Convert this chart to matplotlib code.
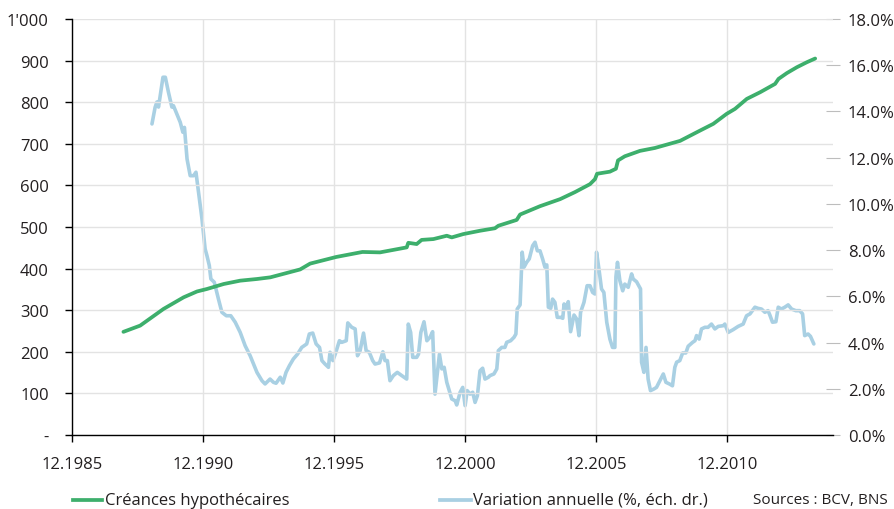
import numpy as np
import matplotlib
matplotlib.use("Agg")
import matplotlib.pyplot as plt
from matplotlib.lines import Line2D

plt.rcParams['font.family'] = ['Open Sans', 'DejaVu Sans']

# Créances hypothécaires (CHF mrd, left scale), decimal years
credit_years = [1987.87, 1988.51, 1989.40, 1990.17, 1990.68, 1991.06, 1991.70, 1992.33,
                1992.97, 1993.48, 1994.62, 1995.00, 1996.00, 1997.00, 1997.67, 1998.69,
                1998.75, 1999.07, 1999.26, 1999.71, 2000.22, 2000.41, 2000.85, 2001.49,
                2002.06, 2002.19, 2002.89, 2003.02, 2003.78, 2004.55, 2005.12, 2005.69,
                2005.88, 2005.96, 2006.45, 2006.68, 2006.76, 2007.02, 2007.60, 2008.17,
                2009.13, 2009.90, 2010.40, 2010.91, 2011.23, 2011.68, 2012.19, 2012.76,
                2012.89, 2013.21, 2013.59, 2013.97, 2014.29]
credit_vals = [248, 263, 303, 331, 345, 351, 363, 371,
               375, 379, 398, 412, 428, 440, 439, 451,
               462, 459, 469, 471, 479, 475, 483, 491,
               497, 503, 517, 530, 550, 567, 584, 603,
               615, 628, 633, 640, 660, 670, 683, 690,
               707, 732, 748, 772, 784, 808, 824, 844,
               856, 870, 884, 896, 905]

# Variation annuelle (%, right scale)
var_years = [1988.96, 1989.08, 1989.15, 1989.21, 1989.38, 1989.47, 1989.59, 1989.72, 1989.78, 1989.91,
             1990.04, 1990.14, 1990.20, 1990.30, 1990.42, 1990.55, 1990.64, 1990.74, 1990.87, 1990.99,
             1991.06, 1991.15, 1991.21, 1991.34, 1991.50, 1991.63, 1991.80, 1991.97, 1992.14, 1992.33,
             1992.52, 1992.71, 1992.97, 1993.16, 1993.28, 1993.47, 1993.60, 1993.70, 1993.86, 1993.96,
             1994.08, 1994.21, 1994.36, 1994.52, 1994.68, 1994.87, 1994.97, 1995.10, 1995.23, 1995.36,
             1995.45, 1995.57, 1995.70, 1995.76, 1995.87, 1995.96, 1996.12, 1996.21, 1996.38, 1996.44,
             1996.59, 1996.72, 1996.81, 1996.91, 1997.04, 1997.14, 1997.26, 1997.39, 1997.48, 1997.65,
             1997.78, 1997.86, 1997.95, 1998.05, 1998.18, 1998.33, 1998.50, 1998.69, 1998.75, 1998.84,
             1998.92, 1999.07, 1999.14, 1999.23, 1999.35, 1999.46, 1999.58, 1999.68, 1999.77, 1999.94,
             2000.03, 2000.12, 2000.22, 2000.41, 2000.54, 2000.60, 2000.73, 2000.83, 2000.92, 2001.00,
             2001.11, 2001.21, 2001.30, 2001.39, 2001.49, 2001.59, 2001.68, 2001.81, 2001.87, 2002.02,
             2002.13, 2002.19, 2002.32, 2002.44, 2002.51, 2002.66, 2002.79, 2002.86, 2002.91, 2003.02,
             2003.10, 2003.17, 2003.27, 2003.37, 2003.50, 2003.59, 2003.68, 2003.78, 2003.88, 2003.97,
             2004.04, 2004.10, 2004.19, 2004.26, 2004.35, 2004.44, 2004.57, 2004.65, 2004.70, 2004.77,
             2004.86, 2004.95, 2005.08, 2005.18, 2005.27, 2005.33, 2005.46, 2005.58, 2005.69, 2005.79,
             2005.88, 2005.94, 2006.04, 2006.13, 2006.22, 2006.33, 2006.45, 2006.55, 2006.64, 2006.68,
             2006.74, 2006.83, 2006.94, 2007.02, 2007.15, 2007.28, 2007.34, 2007.47, 2007.62, 2007.66,
             2007.75, 2007.83, 2007.91, 2008.00, 2008.13, 2008.23, 2008.36, 2008.49, 2008.59, 2008.72,
             2008.84, 2008.93, 2009.00, 2009.12, 2009.23, 2009.35, 2009.44, 2009.61, 2009.70, 2009.76,
             2009.86, 2009.95, 2010.08, 2010.20, 2010.33, 2010.46, 2010.59, 2010.78, 2010.84, 2010.97,
             2011.16, 2011.35, 2011.54, 2011.67, 2011.80, 2011.99, 2012.11, 2012.24, 2012.37, 2012.49,
             2012.56, 2012.66, 2012.79, 2012.88, 2013.00, 2013.13, 2013.26, 2013.39, 2013.55, 2013.70,
             2013.81, 2013.89, 2014.02, 2014.11, 2014.24]
var_vals = [13.46, 14.18, 14.41, 14.19, 15.48, 15.48, 14.83, 14.19, 14.25, 13.89,
            13.53, 13.10, 13.31, 11.94, 11.22, 11.22, 11.37, 10.50, 9.35, 8.05,
            7.76, 7.33, 6.75, 6.61, 5.88, 5.31, 5.16, 5.16, 4.88, 4.44,
            3.86, 3.43, 2.71, 2.35, 2.21, 2.42, 2.28, 2.24, 2.50, 2.25,
            2.71, 3.00, 3.29, 3.50, 3.79, 3.94, 4.37, 4.41, 3.94, 3.79,
            3.22, 3.07, 2.93, 3.58, 3.22, 3.50, 4.08, 4.01, 4.08, 4.85,
            4.66, 4.59, 3.43, 3.65, 4.41, 3.65, 3.58, 3.22, 3.07, 3.12,
            3.60, 3.22, 3.22, 2.35, 2.57, 2.71, 2.57, 2.42, 4.80, 4.44,
            3.36, 3.36, 3.50, 4.44, 4.90, 4.08, 4.23, 4.47, 1.77, 3.50,
            2.86, 2.93, 2.28, 1.56, 1.48, 1.30, 1.85, 2.06, 1.27, 1.92,
            1.77, 1.85, 1.41, 1.70, 2.78, 2.89, 2.42, 2.50, 2.57, 2.64,
            2.86, 3.65, 3.79, 3.79, 4.01, 4.08, 4.23, 4.37, 5.45, 5.63,
            7.91, 7.26, 7.47, 7.62, 8.19, 8.34, 7.97, 7.97, 7.62, 7.26,
            7.36, 5.53, 5.48, 5.88, 5.74, 5.09, 5.09, 5.05, 5.67, 5.45,
            5.77, 4.47, 5.19, 5.02, 4.30, 5.31, 5.74, 6.46, 6.46, 6.17,
            6.10, 7.91, 7.11, 6.32, 6.17, 4.88, 4.15, 3.79, 3.79, 6.84,
            7.47, 6.68, 6.24, 6.53, 6.39, 6.97, 6.75, 6.63, 6.32, 3.15,
            2.71, 3.79, 2.42, 1.92, 1.99, 2.06, 2.35, 2.64, 2.28, 2.21,
            2.13, 2.93, 3.15, 3.22, 3.55, 3.55, 3.84, 4.01, 4.08, 4.30,
            4.15, 4.59, 4.66, 4.66, 4.80, 4.59, 4.70, 4.73, 4.80, 4.44,
            4.56, 4.70, 4.80, 5.16, 5.24, 5.53, 5.48, 5.45, 5.31, 5.38,
            5.19, 4.88, 4.90, 5.53, 5.45, 5.53, 5.63, 5.45, 5.38, 5.38,
            5.24, 4.30, 4.37, 4.27, 3.94]

tick_years = [1985.917, 1990.917, 1995.917, 2000.917, 2005.917, 2010.917]
tick_labels = ['12.1985', '12.1990', '12.1995', '12.2000', '12.2005', '12.2010']
left_ticks = list(range(0, 1001, 100))
left_labels = ['-'] + [str(v) for v in range(100, 1000, 100)] + ["1'000"]
right_ticks = list(range(0, 19, 2))
right_labels = ['%.1f%%' % v for v in right_ticks]

green = '#3daf6c'
blue = '#a9d0e3'
txt = '#231f20'
grid = '#e3e3e3'

fig = plt.figure(figsize=(8.94, 5.10), dpi=100)
ax = fig.add_axes([72.3 / 894, 1 - 436 / 510, (832.7 - 72.3) / 894, 416 / 510])
ax2 = ax.twinx()

ax.plot(credit_years, credit_vals, color=green, lw=2.7, zorder=3, solid_capstyle='round')
ax2.plot(var_years, var_vals, color=blue, lw=2.6, zorder=2, solid_capstyle='round')

ax.set_xlim(1985.917, 2014.96)
ax.set_ylim(0, 1000)
ax2.set_ylim(0, 18)

ax.set_xticks(tick_years)
ax.set_xticklabels(tick_labels)
ax.set_yticks(left_ticks)
ax.set_yticklabels(left_labels)
ax2.set_yticks(right_ticks)
ax2.set_yticklabels(right_labels)

ax.grid(True, color=grid, lw=1.0)
ax.set_axisbelow(True)
ax.set_zorder(2)
ax.patch.set_visible(False)
ax2.set_zorder(1)

for s in ['top', 'right']:
    ax.spines[s].set_visible(False)
for s in ['top', 'right', 'left', 'bottom']:
    ax2.spines[s].set_visible(False)
ax.spines['left'].set_color('black')
ax.spines['bottom'].set_color('black')
ax.spines['left'].set_linewidth(1.0)
ax.spines['bottom'].set_linewidth(1.0)

ax.tick_params(axis='both', direction='out', length=5, width=1, color='black',
               labelsize=12, labelcolor=txt)
ax.tick_params(axis='x', pad=10)
ax.tick_params(axis='y', pad=12)
ax2.tick_params(axis='y', direction='inout', length=10, width=0.8, color='#bdbdbd',
                labelsize=12, labelcolor=txt, pad=6)

# legend at the bottom
ly = 1 - 501 / 510
fig.add_artist(Line2D([73 / 894, 102 / 894], [ly, ly], color=green, lw=2.7,
                      transform=fig.transFigure))
fig.text(105 / 894, ly, 'Créances hypothécaires', fontsize=12, color=txt,
         va='center', ha='left')
fig.add_artist(Line2D([440 / 894, 471 / 894], [ly, ly], color=blue, lw=2.7,
                      transform=fig.transFigure))
fig.text(473 / 894, ly, 'Variation annuelle (%, éch. dr.)', fontsize=12, color=txt,
         va='center', ha='left')
fig.text(888 / 894, ly, 'Sources : BCV, BNS', fontsize=11, color=txt,
         va='center', ha='right')

fig.savefig('out.png', dpi=100)
